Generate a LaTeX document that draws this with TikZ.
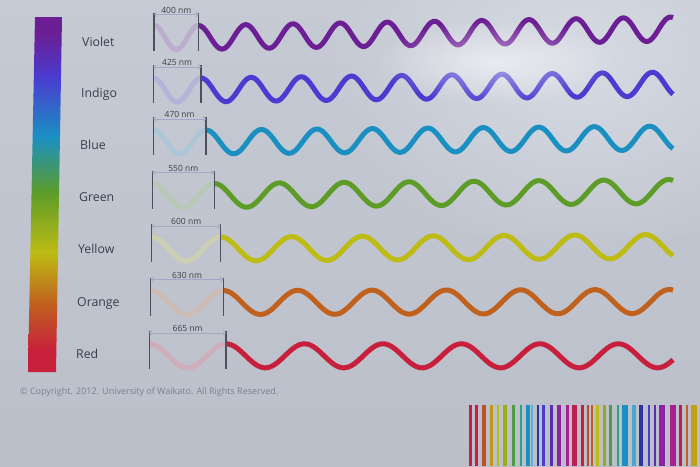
\documentclass[tikz,border=0pt]{standalone}
\usepackage{fontspec}
\setmainfont{Open Sans}
\usetikzlibrary{arrows.meta,fadings}

\definecolor{screenbg}{HTML}{C6CAD4}
\definecolor{screenlow}{HTML}{BBBFCA}
\definecolor{glare}{HTML}{D6DAE3}
\definecolor{labeltext}{HTML}{3A3E4A}
\definecolor{bracketline}{HTML}{4C505C}
\definecolor{dimline}{HTML}{A4A8C4}
\definecolor{copytext}{HTML}{7A808E}
\definecolor{wviolet}{HTML}{6C1E94}
\definecolor{windigo}{HTML}{4A3CD0}
\definecolor{wblue}{HTML}{1A90C2}
\definecolor{wgreen}{HTML}{5E9C28}
\definecolor{wyellow}{HTML}{BEBC14}
\definecolor{worange}{HTML}{C0621E}
\definecolor{wred}{HTML}{C8203C}
\definecolor{bteal}{HTML}{2EA08A}
\definecolor{bnavy}{HTML}{2A34A4}
\definecolor{bpurple}{HTML}{8E22A2}
\definecolor{bmagenta}{HTML}{A8208E}
\definecolor{bcrimson}{HTML}{C01E50}

\pgfdeclareverticalshading{spectrum}{100bp}{color(0bp)=(wred); color(25bp)=(wred); color(28bp)=(wred); color(34.7bp)=(worange); color(41.8bp)=(wyellow); color(50.2bp)=(wgreen); color(58.1bp)=(wblue); color(66.5bp)=(windigo); color(72.7bp)=(wviolet); color(100bp)=(wviolet)}
\tikzfading[name=glowfade, inner color=transparent!0, outer color=transparent!100]

\tikzset{
  colorname/.style={anchor=base west, text=labeltext, font=\fontsize{12.3}{14}\selectfont, inner sep=0pt},
  nmlabel/.style={text=labeltext, font=\fontsize{8.5}{9}\selectfont, inner sep=1pt},
  bracket/.style={bracketline, line width=1.1pt},
  dimarrow/.style={dimline, line width=0.6pt, {Straight Barb[length=2.5pt]}-{Straight Barb[length=2.5pt]}},
  wave/.style={line width=5pt},
}

\begin{document}
\begin{tikzpicture}[x=1pt,y=-1pt]
	\useasboundingbox (0,0) rectangle (700,466);
	% screen
	\shade[top color=screenbg, bottom color=screenlow] (0,0) rectangle (700,466);
	\fill[glare, path fading=glowfade] (580,60) ellipse[x radius=260pt, y radius=200pt];

	% spectrum bar
	\shade[shading=spectrum] (35,17) -- (62,17) -- (56,372) -- (28,372) -- cycle;

	% one row per colour
	\foreach \name/\nm/\col/\lx/\ly/\c/\xl/\w/\tilt [count=\i] in {
		Violet/400/wviolet/82/46.3/37.5/154/44.5/-8.5,
		Indigo/425/windigo/81/97.5/90/153.3/47.7/-6,
		Blue/470/wblue/80/149.5/142/153.3/52.7/-4,
		Green/550/wgreen/79/201.5/195.5/152.3/62/-4,
		Yellow/600/wyellow/78/253.5/249/151.7/69/-2.5,
		Orange/630/worange/77/306/302.5/150.7/72.6/-1,
		Red/665/wred/76/358/355.8/149.3/76.7/0}
	{
		\pgfmathsetmacro{\xr}{\xl+\w}
		\pgfmathsetmacro{\per}{0.118*\nm}
		\node[colorname] (name\i) at (\lx,\ly) {\name};

		\coordinate (blt\i) at (\xl,{\c-25});
		\coordinate (blb\i) at (\xl,{\c+13});
		\coordinate (brt\i) at (\xr,{\c-25});
		\coordinate (brb\i) at (\xr,{\c+13});
		\coordinate (dl\i) at (\xl,{\c-23});
		\coordinate (dr\i) at (\xr,{\c-23});

		\draw[wave, \col!25!screenbg!85!white, domain=\xl:\xr, samples=60, smooth]
			plot (\x, {\c - 12*cos((\x-\xl)/\w*360)});
		\draw[wave, \col, domain=\xr:673, samples=300, smooth]
			plot (\x, {\c + \tilt*((\x-\xr)/(673-\xr)) - 12*cos((\x-\xr)/\per*360)});

		\draw[bracket] (blt\i) -- (blb\i);
		\draw[bracket] (brt\i) -- (brb\i);
		\draw[dimarrow] (dl\i) -- (dr\i) node[midway, above, nmlabel] (nm\i) {\nm\ nm};
	}

	% glare on the screen
	\fill[white, fill opacity=0.55, path fading=glowfade] (495,62) ellipse[x radius=120pt, y radius=42pt];

	\node[anchor=west, text=copytext, font=\fontsize{9}{10}\selectfont, inner sep=0pt] (copyright) at (20,392)
		{\textcopyright\ Copyright. 2012. University of Waikato. All Rights Reserved.};

	% colour bars, bottom right
	\foreach \bx/\bw/\bc in {
		469.3/2.4/wred!85!bmagenta, 475/2.7/wred, 481.7/4.3/worange!70!wred, 490/3.3/worange!40!wyellow,
		496.7/2/wyellow, 503.3/3.4/wyellow!60!wgreen, 511.7/3.3/wgreen!80!wblue, 520/2.3/bteal,
		526/4/wblue, 531/2/wblue!70!white, 536.7/2/bnavy, 541.7/3.3/windigo,
		550/2.7/wviolet!60!windigo, 556.7/4.3/bpurple, 566/3/bmagenta, 572.3/5/bcrimson,
		581/2.7/wred, 587/1.7/worange!60!wred, 590.7/2.3/worange, 595.7/3/wyellow,
		602.7/3.3/wyellow!50!wgreen, 609/3.3/wgreen!80!wblue, 616.7/2.3/bteal, 622.3/5.4/wblue,
		632.3/3.4/wblue!80!white, 639/4.3/bnavy, 647.7/2.3/windigo, 654.3/1.7/wviolet!50!windigo,
		659/5.7/bpurple, 670/6/bmagenta, 679.3/2.7/bcrimson, 686/2/worange, 690.7/6/wyellow!70!worange}
		\fill[\bc] (\bx,405) rectangle ({\bx+\bw},466);
\end{tikzpicture}
\end{document}
